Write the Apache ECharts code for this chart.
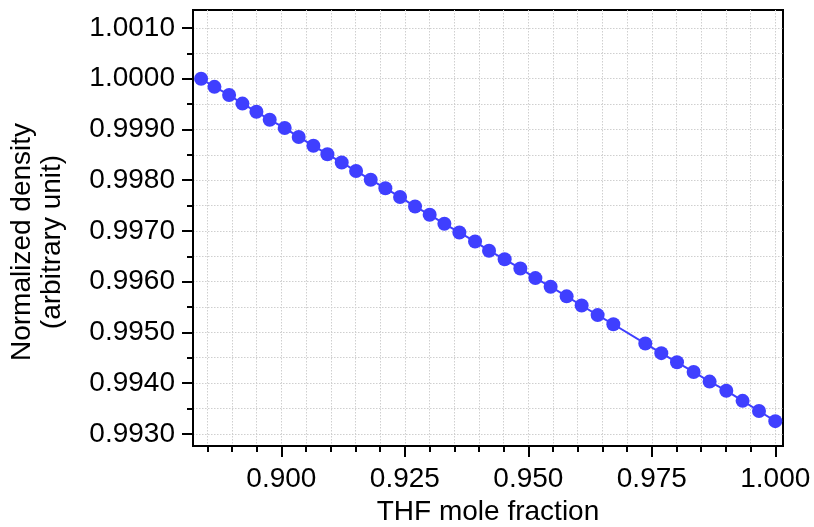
<!DOCTYPE html>
<html>
<head>
<meta charset="utf-8">
<script src="https://cdn.jsdelivr.net/npm/echarts@6/dist/echarts.min.js"></script>
<style>
html,body{margin:0;padding:0;background:#fff;}
#chart{width:814px;height:527px;}
</style>
</head>
<body>
<div id="chart"></div>
<script>
const thfFraction = [0.88374,0.88644,0.88941,0.89211,0.89494,0.89763,0.90067,0.90350,0.90648,0.90931,
  0.91221,0.91512,0.91808,0.92105,0.92403,0.92706,0.93002,0.93300,0.93603,0.93921,
  0.94204,0.94520,0.94838,0.95142,0.95451,0.95775,0.96079,0.96403,0.96721,
  0.97368,0.97692,0.98010,0.98346,0.98670,0.99008,0.99338,0.99670,1.00000];
const density = [1.00000,0.99984,0.99968,0.99951,0.99935,0.99919,0.99903,0.99885,0.99868,0.99851,
  0.99835,0.99818,0.99801,0.99784,0.99767,0.99748,0.99732,0.99714,0.99697,0.99679,
  0.99661,0.99644,0.99626,0.99607,0.99590,0.99571,0.99553,0.99534,0.99516,
  0.99478,0.99459,0.99441,0.99422,0.99403,0.99385,0.99365,0.99345,0.99325];
const xTicks = [0.900, 0.925, 0.950, 0.975, 1.000];
const yTicks = [0.993, 0.994, 0.995, 0.996, 0.997, 0.998, 0.999, 1.000, 1.001];
const xTitle = 'THF mole fraction';
const yTitle = 'Normalized density\n(arbitrary unit)';

const points = thfFraction.map((x, i) => [x, density[i]]);
const font = 'Liberation Sans, Arial, sans-serif';
const gridLine = {show: true, lineStyle: {color: '#cfcfcf', width: 1, type: [1.5, 1.5]}};

const chart = echarts.init(document.getElementById('chart'), null, {renderer: 'canvas'});
chart.setOption({
  animation: false,
  backgroundColor: '#fff',
  grid: {left: 193, right: 31, top: 10, bottom: 81, show: true, borderColor: '#000', borderWidth: 2,
         containLabel: false, outerBoundsMode: 'none'},
  xAxis: {
    type: 'value', min: 0.8821, max: 1.00156, minInterval: 0.025, maxInterval: 0.025,
    name: xTitle, nameLocation: 'middle', nameGap: 43,
    nameTextStyle: {fontFamily: font, fontSize: 28, color: '#000'},
    axisLine: {show: true, onZero: false, lineStyle: {color: '#000', width: 2}},
    axisTick: {show: true, inside: false, length: 11, customValues: xTicks, lineStyle: {color: '#000', width: 2}},
    minorTick: {show: true, splitNumber: 5, length: 6, lineStyle: {color: '#000', width: 2}},
    axisLabel: {fontFamily: font, fontSize: 28, color: '#000', margin: 19, formatter: v => v.toFixed(3),
                customValues: xTicks},
    splitLine: gridLine,
    minorSplitLine: gridLine
  },
  yAxis: {
    type: 'value', min: 0.99276, max: 1.001355, minInterval: 0.001, maxInterval: 0.001,
    name: yTitle, nameLocation: 'middle', nameGap: 126,
    nameTextStyle: {fontFamily: font, fontSize: 28, color: '#000', lineHeight: 30, align: 'center', padding: [0, 28, 0, 0]},
    axisLine: {show: true, onZero: false, lineStyle: {color: '#000', width: 2}},
    axisTick: {show: true, inside: false, length: 11, customValues: yTicks, lineStyle: {color: '#000', width: 2}},
    minorTick: {show: true, splitNumber: 2, length: 6, lineStyle: {color: '#000', width: 2}},
    axisLabel: {fontFamily: font, fontSize: 28, color: '#000', margin: 18, formatter: v => v.toFixed(4),
                customValues: yTicks},
    splitLine: gridLine,
    minorSplitLine: gridLine
  },
  series: [{
    type: 'line', data: points, symbol: 'circle', symbolSize: 14,
    lineStyle: {color: '#3f3fff', width: 2},
    itemStyle: {color: '#3f3fff'},
    clip: false
  }]
});
</script>
</body>
</html>
